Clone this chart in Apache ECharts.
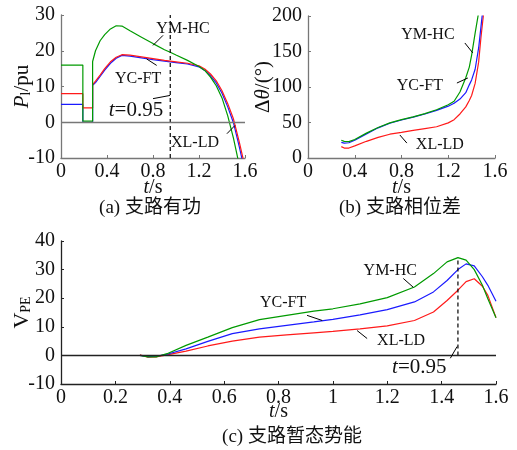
<!DOCTYPE html>
<html><head><meta charset="utf-8">
<script src="https://cdn.jsdelivr.net/npm/echarts@6/dist/echarts.min.js"></script>
<style>html,body{margin:0;padding:0;background:#fff}#c{width:517px;height:450px}</style>
</head><body><div id="c"></div>
<script>
// ---------- (a) branch active power ----------
const tA     = [0, 0.19, 0.19, 0.275, 0.275, 0.30, 0.34, 0.38, 0.43, 0.48, 0.53, 0.6, 0.7, 0.8, 0.9, 0.95, 1.0, 1.1, 1.2, 1.25, 1.3, 1.35, 1.4, 1.45, 1.5, 1.55, 1.6];
const aGreen = [16, 16, 0.3, 0.3, 17, 20, 22.8, 24.5, 26.1, 27, 26.9, 25.6, 23.8, 22, 20.3, 19.6, 18.8, 17.3, 15.6, 14.5, 12.6, 10.2, 6.8, 1.8, -4.5, -12, -20];
const aRed   = [8, 8, 4, 4, 10.5, 11.5, 13.2, 15, 16.9, 18.2, 18.9, 18.8, 18.3, 17.8, 17.3, 17.1, 16.9, 16.5, 15.8, 14.9, 13.5, 11.6, 8.8, 5.2, 0.9, -5.5, -12.5];
const aBlue  = [5, 5, 0, 0, 10.3, 11.1, 12.8, 14.6, 16.5, 17.9, 18.7, 18.5, 18.0, 17.5, 17.1, 16.9, 16.7, 16.3, 15.5, 14.5, 13.0, 11.0, 8.1, 4.3, -0.2, -6.8, -14];
// ---------- (b) branch phase difference ----------
const tB     = [0.285, 0.31, 0.35, 0.4, 0.5, 0.6, 0.7, 0.8, 0.9, 1.0, 1.1, 1.2, 1.25, 1.3, 1.35, 1.38, 1.4, 1.43, 1.46, 1.48, 1.51];
const bGreen = [25, 23.5, 23, 26, 35, 43, 49.5, 54, 58, 62.5, 68, 75, 80, 93, 113, 128, 145, 176, 205, 230, 260];
const bBlue  = [22, 21, 21.5, 25, 34, 42.5, 49, 53.5, 57.5, 62, 67, 73, 77, 83, 92, 103, 110, 125, 155, 185, 230];
const bRed   = [16, 14, 14, 17, 23.5, 29, 33.5, 36, 39, 41.5, 44, 49.5, 54, 62, 72, 81, 88, 105, 135, 170, 215];
// ---------- (c) branch transient potential energy ----------
const tC     = [0.29, 0.32, 0.35, 0.39, 0.46, 0.54, 0.63, 0.73, 0.83, 0.93, 1.0, 1.1, 1.2, 1.3, 1.37, 1.42, 1.46, 1.49, 1.52, 1.55, 1.57, 1.6];
const cGreen = [0, -0.5, -0.5, 0.6, 3.5, 6.4, 9.7, 12.5, 14, 15.5, 16.3, 18, 20.2, 23.9, 28.6, 32.7, 34.2, 33.3, 30, 24.5, 19.8, 13.2];
const cBlue  = [0, -0.4, -0.3, 0.4, 2.3, 4.9, 7.6, 9.3, 10.5, 11.7, 12.6, 14.2, 16, 18.7, 22.2, 26.2, 30, 32, 31.3, 27.5, 24.5, 18.9];
const cRed   = [0.2, -0.6, -0.5, 0.2, 1.5, 3.3, 5, 6.4, 7.2, 7.9, 8.4, 9.3, 10.3, 12.2, 15.2, 19.2, 22.8, 25.8, 26.8, 24.2, 21, 13.2];
// ---------- tick definitions ----------
const xTicks = {min: 0, max: 1.6};
const yTicksA = {min: -10, max: 30, interval: 10};
const yTicksB = {min: 0, max: 200, interval: 50};
const yTicksC = {min: -10, max: 40, interval: 10};
// ---------- annotations (data coords) ----------
const markT_A = 0.95, markTop_A = 30;
const markT_C = 1.46, markTop_C = 34.2;
const labelsA = [['YM-HC', 1.061, 26.2], ['YC-FT', 0.67, 12.2], ['XL-LD', 1.165, -5.7]];
const leadersA = [[[0.887, 24.3], [0.80, 21.5]], [[0.832, 15.9], [0.745, 17.7]], [[0.80, 6.6], [0.948, 7.5]], [[1.443, -3.2], [1.513, -0.9]]];
const tLabelA = [0.652, 3.3];
const labelsB = [['YM-HC', 1.026, 173], ['YC-FT', 0.957, 101], ['XL-LD', 1.128, 18.3]];
const leadersB = [[[1.342, 162], [1.41, 148]], [[1.274, 105.6], [1.368, 112.7]], [[0.846, 21], [0.786, 32.4]]];
const labelsC = [['YM-HC', 1.211, 29.7], ['YC-FT', 0.817, 18.5], ['XL-LD', 1.251, 5.2]];
const leadersC = [[[1.259, 26.9], [1.296, 23.8]], [[0.905, 14], [0.961, 12.2]], [[1.089, 8.7], [1.126, 5.9]], [[1.432, -1], [1.457, 3.1]]];
const tLabelC = [1.318, -4.2];
const titles = ['(a) 支路有功', '(b) 支路相位差', '(c) 支路暂态势能'];

const SERIF = 'Liberation Serif, Times New Roman, Noto Sans CJK SC, serif';
const GREEN = '#009a00', RED = '#ff1a1a', BLUE = '#1a1aff';
const pairs = (t, v) => t.map((x, i) => [x, v[i]]);

const chart = echarts.init(document.getElementById('c'));

const grids = [
  {left: 61, top: 15, width: 184, height: 143},
  {left: 308, top: 16, width: 187, height: 142},
  {left: 61, top: 241, width: 435, height: 143}
];
const axCol = ['#777', '#777', '#222'];

function xAx(gi, interval, gap) {
  return Object.assign({
    type: 'value', gridIndex: gi, interval,
    axisLine: {onZero: false, lineStyle: {color: axCol[gi], width: 1.3}},
    axisTick: {inside: true, length: 3, lineStyle: {color: axCol[gi]}},
    splitLine: {show: false},
    axisLabel: {color: '#111', fontFamily: SERIF, fontSize: 20, margin: 4, showMinLabel: true, showMaxLabel: true, hideOverlap: false},
    name: '{i|t}/s', nameLocation: 'middle', nameGap: gap, nameMoveOverlap: false,
    nameTextStyle: {fontFamily: SERIF, fontSize: 20, color: '#111', rich: {i: {fontStyle: 'italic', fontFamily: SERIF, fontSize: 20, color: '#111'}}}
  }, xTicks);
}
function yAx(gi, ticks, name, gap, rich) {
  return Object.assign({
    type: 'value', gridIndex: gi,
    axisLine: {onZero: false, lineStyle: {color: axCol[gi], width: 1.3}},
    axisTick: {inside: true, length: 3, lineStyle: {color: axCol[gi]}},
    splitLine: {show: false},
    axisLabel: {color: '#111', fontFamily: SERIF, fontSize: 20, margin: 6, showMinLabel: true, showMaxLabel: true, hideOverlap: false},
    name, nameLocation: 'middle', nameRotate: 90, nameGap: gap, nameMoveOverlap: false,
    nameTextStyle: {fontFamily: SERIF, fontSize: 20, color: '#111', rich}
  }, ticks);
}

const series = [];
function line(gi, data, color, extra) {
  series.push(Object.assign({
    type: 'line', xAxisIndex: gi, yAxisIndex: gi, data, showSymbol: false, symbol: 'none',
    lineStyle: {color, width: 1.2}, itemStyle: {color}, silent: true, animation: false, clip: true, z: 3
  }, extra || {}));
}
function zero(gi, color) {
  series.push({type: 'line', xAxisIndex: gi, yAxisIndex: gi, data: [], silent: true, animation: false,
    markLine: {silent: true, symbol: 'none', label: {show: false}, lineStyle: {color, type: 'solid', width: 1.3}, data: [{yAxis: 0}], animation: false}});
}
zero(0, '#777');
zero(2, '#222');

line(0, pairs(tA, aBlue), BLUE);
line(0, pairs(tA, aRed), RED);
line(0, pairs(tA, aGreen), GREEN);
line(1, pairs(tB, bRed), RED);
line(1, pairs(tB, bBlue), BLUE);
line(1, pairs(tB, bGreen), GREEN);
line(2, pairs(tC, cRed), RED);
line(2, pairs(tC, cBlue), BLUE);
line(2, pairs(tC, cGreen), GREEN);

line(0, [[markT_A, yTicksA.min], [markT_A, markTop_A]], '#000', {lineStyle: {color: '#000', width: 1.2, type: [4, 3]}, z: 4});
line(2, [[markT_C, 0], [markT_C, markTop_C]], '#000', {lineStyle: {color: '#000', width: 1.2, type: [4, 3]}, z: 4});
leadersA.forEach(l => line(0, l, '#000', {lineStyle: {color: '#000', width: 1}, z: 5}));
leadersB.forEach(l => line(1, l, '#000', {lineStyle: {color: '#000', width: 1}, z: 5}));
leadersC.forEach(l => line(2, l, '#000', {lineStyle: {color: '#000', width: 1}, z: 5}));

const subStyle = {fontFamily: SERIF, fontSize: 14, color: '#111', verticalAlign: 'bottom', lineHeight: 14};
chart.setOption({
  animation: false,
  backgroundColor: '#fff',
  grid: grids,
  xAxis: [xAx(0, 0.4, 20), xAx(1, 0.4, 20), xAx(2, 0.2, 18)],
  yAxis: [
    yAx(0, yTicksA, '{i|P}{s|l}{n|/pu}', 28, {i: {fontStyle: 'italic', fontFamily: SERIF, fontSize: 21, color: '#111', lineHeight: 24, verticalAlign: 'bottom'}, s: subStyle, n: {fontFamily: SERIF, fontSize: 21, color: '#111', lineHeight: 24, verticalAlign: 'bottom'}}),
    yAx(1, yTicksB, '{n|Δ}{i|θ}{n|/(°)}', 34, {i: {fontStyle: 'italic', fontFamily: SERIF, fontSize: 21, color: '#111'}, n: {fontFamily: SERIF, fontSize: 21, color: '#111'}}),
    yAx(2, yTicksC, '{n|V}{s|PE}', 28, {n: {fontFamily: SERIF, fontSize: 22, color: '#111', lineHeight: 24, verticalAlign: 'bottom'}, s: subStyle})
  ],
  series
});

const gfx = [];
function txt(gi, s, at, size, rich) {
  const p = chart.convertToPixel({gridIndex: gi}, at);
  gfx.push({type: 'text', x: p[0], y: p[1], z: 10, silent: true,
    style: {text: s, fontFamily: SERIF, fontSize: size, fill: '#111', align: 'center', verticalAlign: 'middle', rich}});
}
const tRich = {i: {fontStyle: 'italic', fontFamily: SERIF, fontSize: 21, fill: '#111'}, n: {fontFamily: SERIF, fontSize: 21, fill: '#111'}};
labelsA.forEach(l => txt(0, l[0], [l[1], l[2]], 16));
labelsB.forEach(l => txt(1, l[0], [l[1], l[2]], 16));
labelsC.forEach(l => txt(2, l[0], [l[1], l[2]], 16));
txt(0, '{i|t}{n|=0.95}', tLabelA, 21, tRich);
txt(2, '{i|t}{n|=0.95}', tLabelC, 21, tRich);
const capPos = [[150, 208], [400, 208], [292, 437]];
titles.forEach((s, i) => gfx.push({type: 'text', x: capPos[i][0], y: capPos[i][1], silent: true,
  style: {text: s, fontFamily: SERIF, fontSize: 19, fill: '#111', align: 'center', verticalAlign: 'middle'}}));
chart.setOption({graphic: gfx});
</script>
</body></html>
